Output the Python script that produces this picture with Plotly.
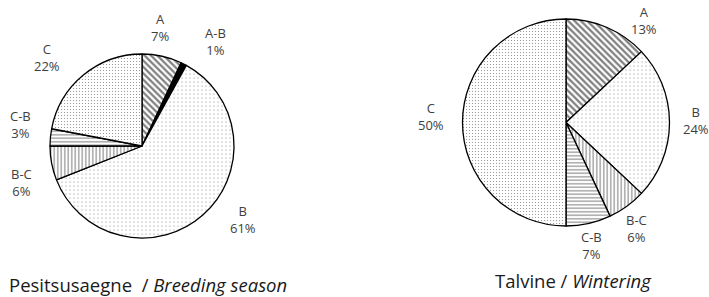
import math
import plotly.graph_objects as go

labels_breeding = ["A", "A-B", "B", "B-C", "C-B", "C"]
values_breeding = [7, 1, 61, 6, 3, 22]
labels_winter = ["A", "B", "B-C", "C-B", "C"]
values_winter = [13, 24, 6, 7, 50]
title_breeding = "Pesitsusaegne  / <i>Breeding season</i>"
title_winter = "Talvine / <i>Wintering</i>"

W, H = 709, 297

style = {
    "A": dict(shape="\\", size=4.5, solidity=0.5),
    "A-B": dict(shape="", size=5, solidity=0.3),
    "B": dict(shape=".", size=4, solidity=0.06),
    "B-C": dict(shape="|", size=3.5, solidity=0.3),
    "C-B": dict(shape="-", size=3.5, solidity=0.3),
    "C": dict(shape=".", size=3, solidity=0.1),
}
fill = {"A-B": "black"}

# manual label nudges (px), like hand-moved data labels
nudge_breeding = {"A": (-9, 1), "A-B": (18, 4), "B": (20, -18), "B-C": (-1, 14), "C-B": (0, -10), "C": (-17, 6)}
nudge_winter = {"A": (25, 21), "B": (-4, -2), "B-C": (-8, -2), "C-B": (-4, -7), "C": (-2, -6)}

fig = go.Figure()

def px2x(px):
    return px / W

def px2y(py):
    return 1 - py / H

def add_pie(labels, values, cx, cy, r, nudge, title, tx, ty):
    dom = dict(x=[px2x(cx - r), px2x(cx + r)], y=[px2y(cy + r), px2y(cy - r)])
    fig.add_trace(go.Pie(
        labels=labels, values=values, sort=False, direction="clockwise",
        domain=dom, textinfo="none", textposition="none",
        marker=dict(
            colors=[fill.get(l, "white") for l in labels],
            line=dict(color="black", width=1.3),
            pattern=dict(
                shape=[style[l]["shape"] for l in labels],
                size=[style[l]["size"] for l in labels],
                solidity=[style[l]["solidity"] for l in labels],
                fgcolor="black", bgcolor="white", fillmode="overlay",
            ),
        ),
        showlegend=False, hoverinfo="skip",
    ))
    total = sum(values)
    cum = 0
    R = r + 30
    for lab, v in zip(labels, values):
        mid = (cum + v / 2) / total * 2 * math.pi
        cum += v
        ux, uy = math.sin(mid), -math.cos(mid)
        ndx, ndy = nudge.get(lab, (0, 0))
        lx = cx + ux * R + ndx
        ly = cy + uy * R + ndy
        fig.add_annotation(text=f"{lab}<br>{round(100 * v / total)}%", x=px2x(lx), y=px2y(ly),
                           xref="paper", yref="paper", xanchor="center", yanchor="middle",
                           showarrow=False, font=dict(family="Open Sans", size=13, color="#404040"))
    fig.add_annotation(text=title, x=px2x(tx), y=px2y(ty), xref="paper", yref="paper",
                       xanchor="center", yanchor="middle", showarrow=False,
                       font=dict(family="Open Sans", size=18.5, color="#1a1a1a"))

add_pie(labels_breeding, values_breeding, 142, 146, 92, nudge_breeding, title_breeding, 148, 284)
add_pie(labels_winter, values_winter, 566, 122.5, 103.5, nudge_winter, title_winter, 573, 280)

fig.update_layout(width=W, height=H, margin=dict(l=0, r=0, t=0, b=0),
                  paper_bgcolor="white", plot_bgcolor="white")
fig.write_html("out.html", config={"displayModeBar": False},
               post_script="document.body.style.margin='0';")
